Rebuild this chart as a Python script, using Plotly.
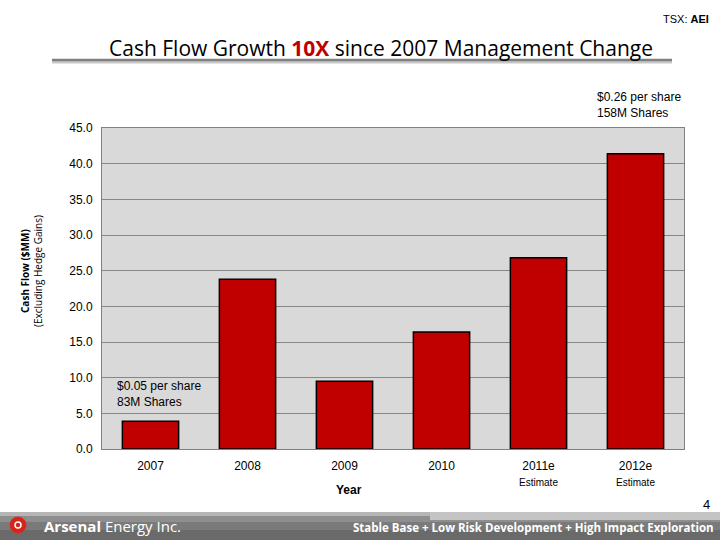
import plotly.graph_objects as go

categories = ["2007", "2008", "2009", "2010", "2011e", "2012e"]
tick_labels = ["2007", "2008", "2009", "2010",
               "2011e<br><span style='font-size:10px'>Estimate</span>",
               "2012e<br><span style='font-size:10px'>Estimate</span>"]
cash_flow = [3.9, 23.8, 9.5, 16.4, 26.8, 41.4]
y_ticks = [0, 5, 10, 15, 20, 25, 30, 35, 40, 45]

W, H = 720, 540
L, R, T, B = 102, 684, 128, 449

fig = go.Figure()
fig.add_trace(go.Bar(
    x=categories, y=cash_flow,
    marker=dict(color="#c00000", line=dict(color="#000000", width=1.5)),
    width=0.58, hoverinfo="skip",
))

def px(x):
    return x / W

def py(y):
    return 1 - y / H

shapes = []
# title underline
shapes.append(dict(type="line", xref="paper", yref="paper",
                   x0=(52 - L) / (R - L), x1=(672 - L) / (R - L),
                   y0=(B - 62) / (B - T), y1=(B - 62) / (B - T),
                   line=dict(color="#c8c8c8", width=3)))
shapes.append(dict(type="line", xref="paper", yref="paper",
                   x0=(52 - L) / (R - L), x1=(672 - L) / (R - L),
                   y0=(B - 60) / (B - T), y1=(B - 60) / (B - T),
                   line=dict(color="#7f7f7f", width=2.5)))
# footer band
def band(x0, x1, y0, y1, color):
    shapes.append(dict(type="rect", xref="paper", yref="paper",
                       x0=(x0 - L) / (R - L), x1=(x1 - L) / (R - L),
                       y0=(B - y1) / (B - T), y1=(B - y0) / (B - T),
                       line=dict(width=0), fillcolor=color, layer="above"))
band(0, 720, 512, 540, "#7a7a7a")
band(0, 720, 512, 516, "#b5b5b5")
band(0, 720, 516, 522, "#8e8e8e")
band(430, 720, 512, 520, "#c4c4c4")
band(0, 720, 530, 540, "#6a6a6a")
# logo
shapes.append(dict(type="circle", xref="paper", yref="paper",
                   x0=(10 - L) / (R - L), x1=(26 - L) / (R - L),
                   y0=(B - 533) / (B - T), y1=(B - 517) / (B - T),
                   line=dict(color="#e0281e", width=1), fillcolor="#d62418", layer="above"))
shapes.append(dict(type="circle", xref="paper", yref="paper",
                   x0=(15 - L) / (R - L), x1=(21 - L) / (R - L),
                   y0=(B - 528) / (B - T), y1=(B - 522) / (B - T),
                   line=dict(color="#ffffff", width=1.5), fillcolor="#d62418", layer="above"))

annotations = [
    dict(text="Cash Flow Growth <b><span style='color:#c00000'>10X</span></b> since 2007 Management Change",
         x=px(381), y=py(48), xref="paper", yref="paper", showarrow=False,
         font=dict(family="Open Sans", size=21, color="#000000"), xanchor="center", yanchor="middle"),
    dict(text="TSX: <b>AEI</b>", x=px(711), y=py(19), xref="paper", yref="paper", showarrow=False,
         font=dict(family="Liberation Sans", size=11, color="#000000"), xanchor="right", yanchor="middle"),
    dict(text="$0.05 per share<br>83M Shares", x=px(115), y=py(394), xref="paper", yref="paper",
         showarrow=False, align="left", xanchor="left", yanchor="middle",
         font=dict(family="Liberation Sans", size=12, color="#000000")),
    dict(text="$0.26 per share<br>158M Shares", x=px(595), y=py(105), xref="paper", yref="paper",
         showarrow=False, align="left", xanchor="left", yanchor="middle",
         font=dict(family="Liberation Sans", size=12, color="#000000")),
    dict(text="<b>Cash Flow ($MM)</b>", x=px(25), y=py(271), xref="paper", yref="paper",
         showarrow=False, textangle=-90, xanchor="center", yanchor="middle",
         font=dict(family="Open Sans", size=10, color="#000000")),
    dict(text="(Excluding Hedge Gains)", x=px(38), y=py(271), xref="paper", yref="paper",
         showarrow=False, textangle=-90, xanchor="center", yanchor="middle",
         font=dict(family="Open Sans", size=10, color="#000000")),
    dict(text="<b>Year</b>", x=px(349), y=py(490), xref="paper", yref="paper", showarrow=False,
         font=dict(family="Liberation Sans", size=12, color="#000000"), xanchor="center", yanchor="middle"),
    dict(text="4", x=px(712), y=py(504), xref="paper", yref="paper", showarrow=False,
         font=dict(family="Liberation Sans", size=13, color="#000000"), xanchor="right", yanchor="middle"),
    dict(text="<b>Arsenal</b> Energy Inc.", x=px(42), y=py(526), xref="paper", yref="paper", showarrow=False,
         font=dict(family="Open Sans", size=15, color="#ffffff"), xanchor="left", yanchor="middle"),
    dict(text="<b>Stable Base + Low Risk Development + High Impact Exploration</b>", x=px(716), y=py(527),
         xref="paper", yref="paper", showarrow=False,
         font=dict(family="Open Sans", size=11.5, color="#ffffff"), xanchor="right", yanchor="middle"),
]
# convert page coordinates into plot-paper coordinates
for a in annotations:
    a["x"] = (a["x"] * W - L) / (R - L)
    a["y"] = ((a["y"]) * H - (H - B)) / (B - T)

fig.update_layout(
    width=W, height=H,
    margin=dict(l=L, r=W - R, t=T, b=H - B, autoexpand=False),
    paper_bgcolor="#ffffff", plot_bgcolor="#d9d9d9",
    showlegend=False,
    bargap=0.42,
    xaxis=dict(tickvals=categories, ticktext=tick_labels, showgrid=False,
               showline=True, linecolor="#808080", linewidth=1, mirror=True,
               ticks="", ticklabelstandoff=6,
               tickfont=dict(family="Liberation Sans", size=12, color="#000000"),
               range=[-0.5, 5.5], fixedrange=True),
    yaxis=dict(range=[0, 45], tickvals=y_ticks, tickformat=".1f",
               showgrid=True, gridcolor="#878787", gridwidth=1,
               showline=True, linecolor="#808080", linewidth=1, mirror=True,
               ticks="", ticklabelstandoff=6,
               tickfont=dict(family="Liberation Sans", size=12, color="#000000"),
               zeroline=False, fixedrange=True),
    shapes=shapes,
    annotations=annotations,
)

fig.write_html("out.html")
